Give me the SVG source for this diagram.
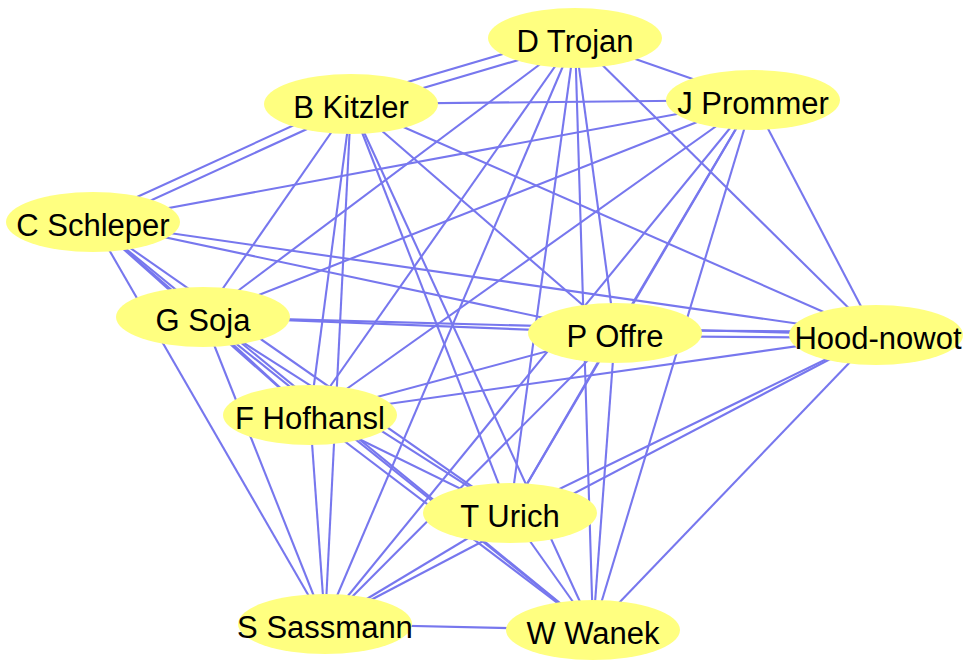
<svg xmlns="http://www.w3.org/2000/svg" width="980" height="666" viewBox="0 0 980 666">
<style>
.e line{stroke:#7777EE;stroke-width:2.1;fill:none}
.n ellipse{fill:#FFFF80;stroke:none}
.n text{font-family:"Liberation Sans",Arial,sans-serif;font-size:31px;fill:#000;text-anchor:middle}
</style>
<rect width="980" height="666" fill="#fff"/>
<g id="edges" class="e">
<line x1="574" y1="33" x2="350" y2="99"/>
<line x1="576" y1="43" x2="352" y2="109"/>
<line x1="575" y1="38" x2="753" y2="100"/>
<line x1="575" y1="38" x2="203" y2="317"/>
<line x1="575" y1="38" x2="310" y2="415"/>
<line x1="575" y1="38" x2="325" y2="624"/>
<line x1="575" y1="38" x2="510" y2="513"/>
<line x1="575" y1="38" x2="615" y2="333"/>
<line x1="575" y1="38" x2="593" y2="630"/>
<line x1="575" y1="38" x2="876" y2="335"/>
<line x1="351" y1="104" x2="753" y2="100"/>
<line x1="349" y1="100" x2="91" y2="218"/>
<line x1="353" y1="108" x2="95" y2="226"/>
<line x1="351" y1="104" x2="203" y2="317"/>
<line x1="351" y1="104" x2="310" y2="415"/>
<line x1="351" y1="104" x2="325" y2="624"/>
<line x1="351" y1="104" x2="510" y2="513"/>
<line x1="351" y1="104" x2="593" y2="630"/>
<line x1="351" y1="104" x2="615" y2="333"/>
<line x1="351" y1="104" x2="876" y2="335"/>
<line x1="753" y1="100" x2="93" y2="222"/>
<line x1="753" y1="100" x2="203" y2="317"/>
<line x1="753" y1="100" x2="310" y2="415"/>
<line x1="753" y1="100" x2="325" y2="624"/>
<line x1="753" y1="100" x2="510" y2="513"/>
<line x1="753" y1="100" x2="615" y2="333"/>
<line x1="753" y1="100" x2="593" y2="630"/>
<line x1="753" y1="100" x2="876" y2="335"/>
<line x1="93" y1="222" x2="876" y2="335"/>
<line x1="93" y1="222" x2="615" y2="333"/>
<line x1="93" y1="222" x2="203" y2="317"/>
<line x1="93" y1="222" x2="310" y2="415"/>
<line x1="93" y1="222" x2="510" y2="513"/>
<line x1="93" y1="222" x2="593" y2="630"/>
<line x1="93" y1="222" x2="325" y2="624"/>
<line x1="203" y1="317" x2="615" y2="333"/>
<line x1="203" y1="317" x2="876" y2="335"/>
<line x1="203" y1="317" x2="325" y2="624"/>
<line x1="203" y1="317" x2="310" y2="415"/>
<line x1="203" y1="317" x2="510" y2="513"/>
<line x1="203" y1="317" x2="593" y2="630"/>
<line x1="615" y1="330" x2="876" y2="332"/>
<line x1="615" y1="336" x2="876" y2="338"/>
<line x1="615" y1="333" x2="310" y2="415"/>
<line x1="615" y1="333" x2="325" y2="624"/>
<line x1="615" y1="333" x2="593" y2="630"/>
<line x1="615" y1="333" x2="510" y2="513"/>
<line x1="876" y1="335" x2="310" y2="415"/>
<line x1="876" y1="335" x2="510" y2="513"/>
<line x1="876" y1="335" x2="325" y2="624"/>
<line x1="876" y1="335" x2="593" y2="630"/>
<line x1="310" y1="415" x2="325" y2="624"/>
<line x1="310" y1="415" x2="510" y2="513"/>
<line x1="310" y1="415" x2="593" y2="630"/>
<line x1="510" y1="513" x2="325" y2="624"/>
<line x1="510" y1="513" x2="593" y2="630"/>
<line x1="325" y1="624" x2="593" y2="630"/>
</g>
<g id="n-trojan" class="n"><ellipse cx="575" cy="38" rx="87" ry="30"/><text x="575" y="52">D Trojan</text></g>
<g id="n-kitzler" class="n"><ellipse cx="351" cy="104" rx="87" ry="30"/><text x="351" y="118">B Kitzler</text></g>
<g id="n-prommer" class="n"><ellipse cx="753" cy="100" rx="87" ry="30"/><text x="753" y="114">J Prommer</text></g>
<g id="n-schleper" class="n"><ellipse cx="93" cy="222" rx="87" ry="30"/><text x="93" y="236">C Schleper</text></g>
<g id="n-soja" class="n"><ellipse cx="203" cy="317" rx="87" ry="30"/><text x="203" y="331">G Soja</text></g>
<g id="n-offre" class="n"><ellipse cx="615" cy="333" rx="87" ry="30"/><text x="615" y="347">P Offre</text></g>
<g id="n-hood" class="n"><ellipse cx="876" cy="335" rx="87" ry="30"/><text x="878" y="349">Hood-nowot</text></g>
<g id="n-hofhansl" class="n"><ellipse cx="310" cy="415" rx="87" ry="30"/><text x="310" y="429">F Hofhansl</text></g>
<g id="n-urich" class="n"><ellipse cx="510" cy="513" rx="87" ry="30"/><text x="510" y="527">T Urich</text></g>
<g id="n-sassmann" class="n"><ellipse cx="325" cy="624" rx="87" ry="30"/><text x="325" y="638">S Sassmann</text></g>
<g id="n-wanek" class="n"><ellipse cx="593" cy="630" rx="87" ry="30"/><text x="593" y="644">W Wanek</text></g>
</svg>
